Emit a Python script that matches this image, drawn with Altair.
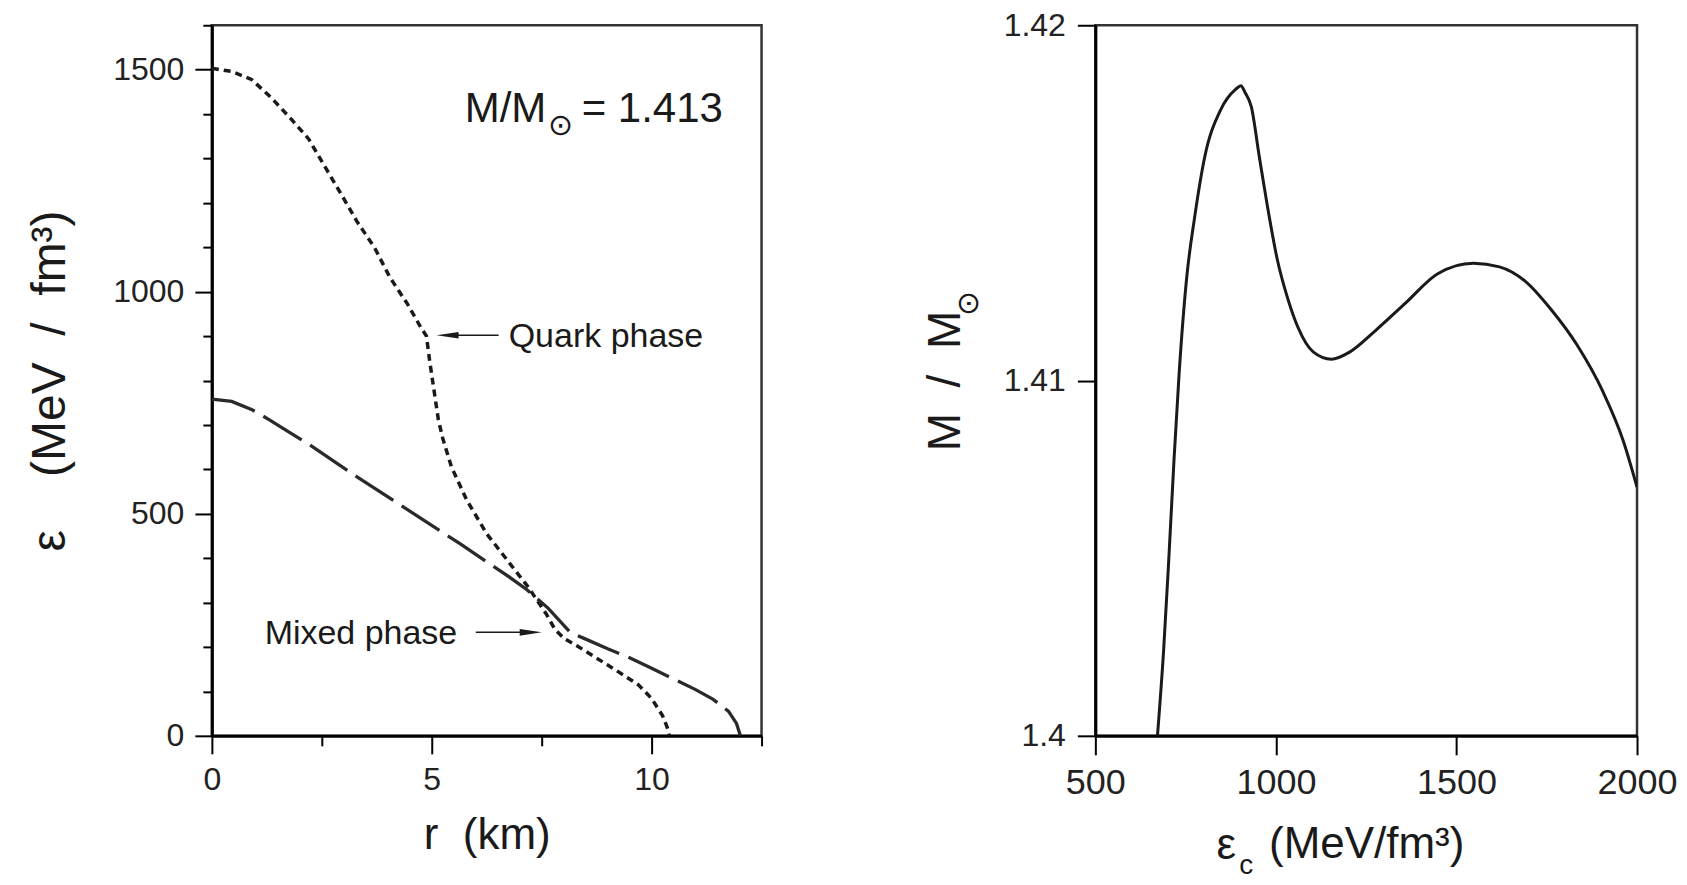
import altair as alt
import pandas as pd

# ---------------- data ----------------
# Left panel: energy density profiles
r_quark = [0, 0.45, 0.9, 1.35, 1.8, 2.2, 2.55, 2.95, 3.3, 3.7, 4.05, 4.45, 4.75, 4.88,
           4.95, 5.05, 5.15, 5.25, 5.45, 5.8, 6.25, 6.8, 7.2, 7.6, 7.8, 8.0, 8.3, 8.7,
           9.2, 9.7, 10.0, 10.25, 10.37, 10.4]
eps_quark = [1503, 1496, 1478, 1437, 1389, 1344, 1285, 1218, 1158, 1099, 1032, 972, 920, 900,
             846, 779, 712, 670, 605, 530, 455, 385, 334, 275, 240, 220, 203, 178,
             147, 115, 84, 45, 15, 0]

r_hadron = [0, 0.45, 0.9, 1.3, 1.7, 2.2, 3.3, 4.5, 5.65, 6.2, 6.7, 7.15, 7.65, 8.15,
            8.45, 9.0, 9.5, 10.0, 10.5, 11.0, 11.4, 11.75, 11.93, 12.02]
eps_hadron = [758, 753, 735, 712, 687, 657, 583, 506, 432, 395, 362, 330, 287, 233,
              220, 196, 176, 152, 128, 104, 82, 55, 28, 0]

# Right panel: mass vs central energy density
eps_c = [672, 689, 703, 718, 732, 753, 775, 803, 846, 889, 903, 915, 932, 954, 975,
         1004, 1033, 1061, 1104, 1154, 1204, 1275, 1361, 1447, 1547, 1619, 1690, 1762,
         1834, 1905, 1962, 2000]
mass = [1.4000, 1.4024, 1.4049, 1.4078, 1.4102, 1.4129, 1.4146, 1.4163, 1.4176, 1.4182,
        1.4183, 1.4181, 1.4177, 1.4163, 1.4150, 1.4134, 1.4123, 1.4115, 1.4108, 1.4106,
        1.4108, 1.4114, 1.4122, 1.4130, 1.4133, 1.4132, 1.4128, 1.4120, 1.4110, 1.4097,
        1.4083, 1.4070]

# Axis tick values
left_x_ticks = [0, 2.5, 5, 7.5, 10, 12.5]
left_y_ticks = list(range(0, 1700, 100))
right_x_ticks = [500, 1000, 1500, 2000]
right_y_ticks = [1.40, 1.41, 1.42]

# Annotations (data coordinates)
ann_text = ["Quark phase", "Mixed phase"]
ann_r = [6.75, 1.2]
ann_eps = [875, 206]

arrow_r_start = [6.52, 6.0]
arrow_r_end = [5.3, 7.2]
arrow_eps = [902, 233]
head_r = [5.36, 7.25]
head_dir = ["left", "right"]

mass_label_parts = ["M/M", "⊙", "= 1.413"]
mass_label_r = [5.75, 7.93, 8.41]
mass_label_eps = [1382, 1374, 1382]

NB = "\u00a0"
FONT = "Liberation Sans"
INK = "#1a1a1a"
PLOT_H = 711

# ---------------- left panel ----------------
xs_l = alt.Scale(domain=[0, 12.5], nice=False, zero=False)
ys_l = alt.Scale(domain=[0, 1600], nice=False)

x_axis_l = alt.Axis(
    title="r" + NB * 2 + "(km)", values=left_x_ticks, format="d",
    labelExpr="datum.value % 5 === 0 ? datum.label : ''",
    tickSize={"condition": {"test": "datum.value % 5 === 0", "value": 18}, "value": 10},
    labelPadding=11, labelFontSize=32, titleFontSize=44, titlePadding=18,
    titleFontWeight="normal", grid=False, labelFlush=False, labelOverlap=False,
)
y_axis_l = alt.Axis(
    title=NB + "ε" + NB * 4 + "(MeV" + NB * 2 + "/" + NB * 2 + "fm³)",
    values=left_y_ticks, format="d",
    labelExpr="datum.value % 500 === 0 ? datum.label : ''",
    tickSize={"condition": {"test": "datum.value % 500 === 0", "value": 17}, "value": 9},
    labelPadding=11, labelFontSize=32, titleFontSize=48, titlePadding=38,
    titleFontWeight="normal", grid=False, labelFlush=False, labelOverlap=False,
)

quark_df = pd.DataFrame({"r": r_quark, "eps": eps_quark})
hadron_df = pd.DataFrame({"r": r_hadron, "eps": eps_hadron})

quark_line = alt.Chart(quark_df).mark_line(
    color=INK, strokeWidth=3.5, strokeDash=[7, 5], clip=True
).encode(
    x=alt.X("r:Q", scale=xs_l, axis=x_axis_l),
    y=alt.Y("eps:Q", scale=ys_l, axis=y_axis_l),
    order="r:Q",
)
hadron_line = alt.Chart(hadron_df).mark_line(
    color="#2a2a2a", strokeWidth=3.3, strokeDash=[45, 10], clip=True
).encode(x=alt.X("r:Q", scale=xs_l), y=alt.Y("eps:Q", scale=ys_l), order="r:Q")

arrow_df = pd.DataFrame({"r0": arrow_r_start, "r1": arrow_r_end, "eps": arrow_eps})
arrows = alt.Chart(arrow_df).mark_rule(color=INK, strokeWidth=1.5).encode(
    x=alt.X("r0:Q", scale=xs_l), x2="r1:Q", y=alt.Y("eps:Q", scale=ys_l)
)
heads_df = pd.DataFrame({"r": head_r, "eps": arrow_eps, "dir": head_dir})
head_left = alt.Chart(heads_df[heads_df.dir == "left"]).mark_point(
    shape="M -1 0 L 1 -0.3 L 1 0.3 Z", size=484, filled=True, color=INK, opacity=1
).encode(x=alt.X("r:Q", scale=xs_l), y=alt.Y("eps:Q", scale=ys_l))
head_right = alt.Chart(heads_df[heads_df.dir == "right"]).mark_point(
    shape="M 1 0 L -1 -0.3 L -1 0.3 Z", size=484, filled=True, color=INK, opacity=1
).encode(x=alt.X("r:Q", scale=xs_l), y=alt.Y("eps:Q", scale=ys_l))

ann_df = pd.DataFrame({"t": ann_text, "r": ann_r, "eps": ann_eps})
ann = alt.Chart(ann_df).mark_text(
    font=FONT, fontSize=34, align="left", baseline="alphabetic", color=INK
).encode(x=alt.X("r:Q", scale=xs_l), y=alt.Y("eps:Q", scale=ys_l), text="t:N")

ml_df = pd.DataFrame({"t": mass_label_parts, "r": mass_label_r, "eps": mass_label_eps})
ml_main = alt.Chart(ml_df[ml_df.t != "⊙"]).mark_text(
    font=FONT, fontSize=42, align="left", baseline="alphabetic", color=INK
).encode(x=alt.X("r:Q", scale=xs_l), y=alt.Y("eps:Q", scale=ys_l), text="t:N")
ml_sun = alt.Chart(ml_df[ml_df.t == "⊙"]).mark_text(
    font="DejaVu Sans", fontSize=30, align="center", baseline="middle", color=INK
).encode(x=alt.X("r:Q", scale=xs_l), y=alt.Y("eps:Q", scale=ys_l), text="t:N")

left = alt.layer(
    quark_line, hadron_line, arrows, head_left, head_right, ann, ml_main, ml_sun
).properties(width=550, height=PLOT_H)

# ---------------- right panel ----------------
xs_r = alt.Scale(domain=[500, 2000], nice=False, zero=False)
ys_r = alt.Scale(domain=[1.40, 1.42], nice=False, zero=False)

x_axis_r = alt.Axis(
    title=NB * 2 + "(MeV/fm³)", values=right_x_ticks, format="d", tickSize=19,
    labelPadding=11, labelFontSize=36, titleFontSize=44, titlePadding=22,
    titleFontWeight="normal", grid=False, labelFlush=False, labelOverlap=False,
)
y_axis_r = alt.Axis(
    title="M" + NB * 2 + "/" + NB * 2 + "M" + NB * 2, values=right_y_ticks, format=".2~f",
    tickSize=18, labelPadding=12, labelFontSize=32, titleFontSize=46, titlePadding=34,
    titleFontWeight="normal", grid=False, labelFlush=False, labelOverlap=False,
)

mass_df = pd.DataFrame({"ec": eps_c, "m": mass})
mass_line = alt.Chart(mass_df).mark_line(
    color=INK, strokeWidth=3, interpolate="monotone", clip=True
).encode(
    x=alt.X("ec:Q", scale=xs_r, axis=x_axis_r),
    y=alt.Y("m:Q", scale=ys_r, axis=y_axis_r),
    order="ec:Q",
)

# symbol pieces of the axis titles: sun sign, epsilon and its subscript c
extra_text = ["⊙", "ε", "c"]
extra_ec = [151, 890, 918]
extra_m = [1.41217, 1.39654, 1.39612]
extra_size = [30, 44, 28]
extra_font = ["DejaVu Sans", FONT, FONT]
extra_df = pd.DataFrame({"t": extra_text, "ec": extra_ec, "m": extra_m})
sun_title = alt.Chart(extra_df[extra_df.t == "⊙"]).mark_text(
    font=extra_font[0], fontSize=extra_size[0], angle=270, align="center",
    baseline="middle", color=INK
).encode(x=alt.X("ec:Q", scale=xs_r), y=alt.Y("m:Q", scale=ys_r), text="t:N")
eps_title = alt.Chart(extra_df[extra_df.t == "ε"]).mark_text(
    font=extra_font[1], fontSize=extra_size[1], align="right", baseline="alphabetic", color=INK
).encode(x=alt.X("ec:Q", scale=xs_r), y=alt.Y("m:Q", scale=ys_r), text="t:N")
c_sub = alt.Chart(extra_df[extra_df.t == "c"]).mark_text(
    font=extra_font[2], fontSize=extra_size[2], align="center", baseline="alphabetic", color=INK
).encode(x=alt.X("ec:Q", scale=xs_r), y=alt.Y("m:Q", scale=ys_r), text="t:N")

right = alt.layer(mass_line, sun_title, eps_title, c_sub).properties(width=542, height=PLOT_H)

chart = alt.hconcat(left, right, spacing=156).properties(
    padding={"left": 17, "top": -1, "right": 0, "bottom": 0},
    background="white",
).configure_view(
    stroke="#333", strokeWidth=2.5
).configure_axis(
    labelFont=FONT, titleFont=FONT, labelColor="#222", titleColor=INK,
    titleFontWeight="normal", tickColor="black", tickWidth=2,
    domainColor="black", domainWidth=3, grid=False,
)

chart.save("out.html", embed_options={"renderer": "svg", "actions": False})
